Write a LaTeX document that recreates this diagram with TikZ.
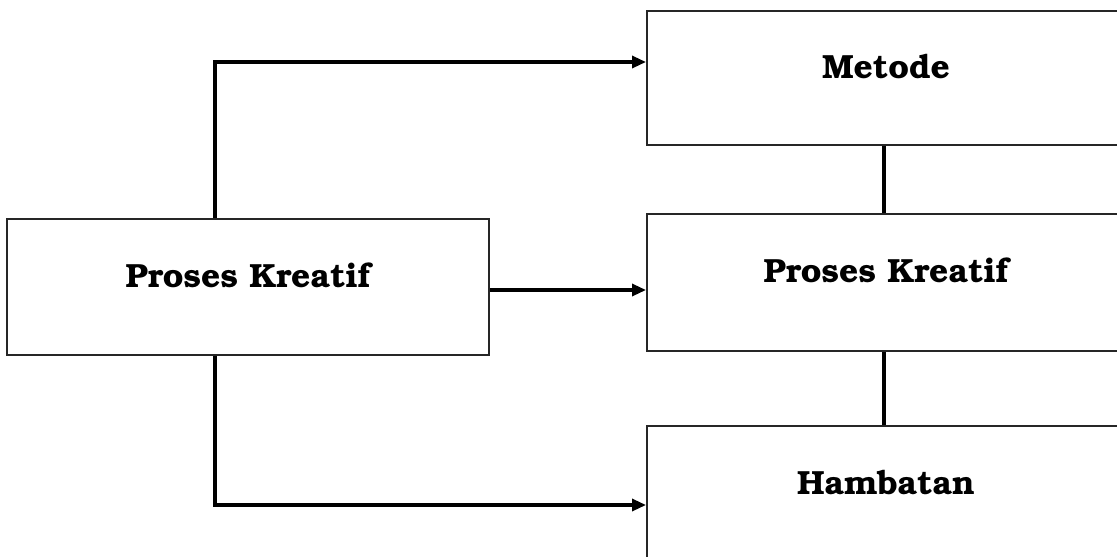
\documentclass[tikz,border=0pt]{standalone}
\usepackage[T1]{fontenc}
\usepackage{bookman}
\usetikzlibrary{arrows.meta}
\begin{document}
\begin{tikzpicture}[x=1pt,y=-1pt,
  box/.style={draw=black!85, line width=2pt, fill=white, rectangle,
    font=\fontsize{33.5}{38}\selectfont\bfseries, text height=23pt, text depth=23pt},
  arr/.style={line width=3.2pt, -{Triangle[length=14pt,width=12pt]}},
  link/.style={line width=3.2pt}]
\useasboundingbox (0,0) rectangle (1117,557);
\fill[white] (0,0) rectangle (1117,557);
\coordinate (ax) at (215,0);
\coordinate (bx) at (884,0);
\coordinate (ya) at (0,62);
\coordinate (ym) at (0,290);
\coordinate (yb) at (0,505);
\node[box, minimum width=482pt, minimum height=136pt] (L) at (248,287) {Proses Kreatif};
\node[box, minimum width=478pt, minimum height=134pt] (M) at (886,78) {Metode};
\node[box, minimum width=478pt, minimum height=137pt] (P) at (886,282.5) {Proses Kreatif};
\node[box, minimum width=478pt, minimum height=136pt] (H) at (886,494) {Hambatan};
\draw[arr] (L.north -| ax) |- (M.west |- ya);
\draw[arr] (L.east |- ym) -- (P.west |- ym);
\draw[arr] (L.south -| ax) |- (H.west |- yb);
\draw[link] (M.south -| bx) -- (P.north -| bx);
\draw[link] (P.south -| bx) -- (H.north -| bx);
\end{tikzpicture}
\end{document}
